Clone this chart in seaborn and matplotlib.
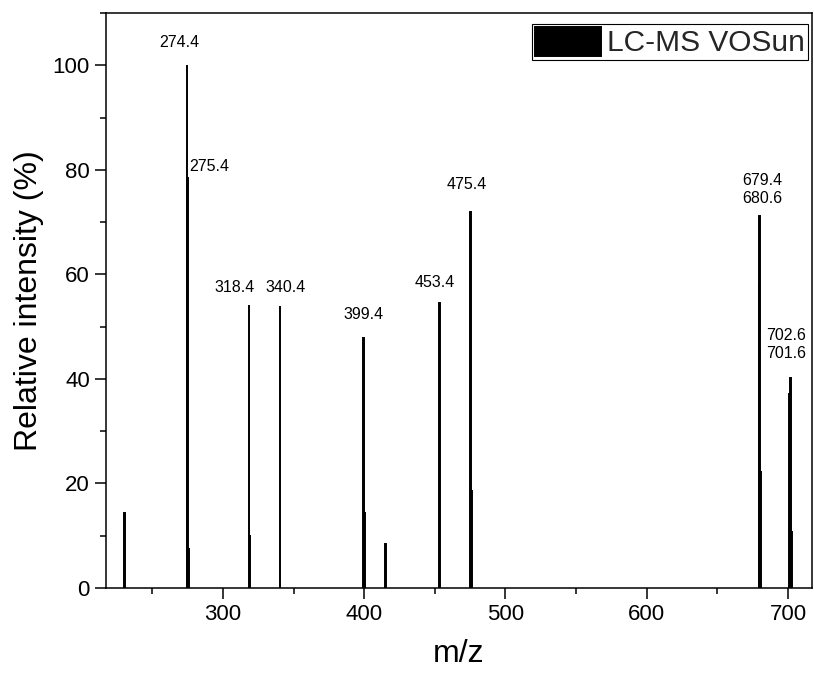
import numpy as np
import pandas as pd
import seaborn as sns
import matplotlib.pyplot as plt
from matplotlib.ticker import MultipleLocator

# Peak list (m/z, relative intensity %)
mz = [230.4, 274.4, 275.0, 276.0, 318.4, 319.2, 340.4, 399.6, 400.6, 415.0,
      453.4, 475.4, 476.2, 679.4, 680.0, 680.6, 700.9, 701.6, 702.4]
intensity = [14.4, 100.0, 78.4, 7.7, 54.1, 10.2, 53.9, 47.8, 14.5, 8.5,
             54.6, 72.0, 18.7, 58.2, 71.2, 22.2, 37.2, 40.2, 10.8]

# Peak labels: text, and which peak (m/z) it sits over
label_text = ['274.4', '275.4', '318.4', '340.4', '399.4', '453.4', '475.4',
              '680.6', '679.4', '701.6', '702.6']
label_peak = [274.4, 275.0, 318.4, 340.4, 399.6, 453.4, 475.4,
              680.0, 680.0, 701.6, 701.6]
# pixel offsets of each label from its peak top (dx, dy, ha)
label_offset = [(-8, 23, 'center'), (2, 12, 'left'), (-14, 18, 'center'),
                (5, 19, 'center'), (0, 24, 'center'), (-5, 20, 'center'),
                (-4, 27, 'center'), (3, 17, 'center'), (3, 35, 'center'),
                (-4, 24, 'center'), (-4, 42, 'center')]

df = pd.DataFrame({'m/z': mz, 'intensity': intensity})

sns.set_style('ticks')
plt.rcParams['font.family'] = ['Liberation Sans', 'DejaVu Sans']

fig = plt.figure(figsize=(8.14, 6.73), dpi=100)
ax = fig.add_axes([0.130, 0.1263, 0.8675, 0.8544])

sns.barplot(data=df, x='m/z', y='intensity', native_scale=True, errorbar=None,
            color='black', edgecolor='black', linewidth=1.4, width=0.8,
            label='LC-MS VOSun', ax=ax)

height_of = dict(zip(mz, intensity))
for txt, pk, (dx, dy, ha) in zip(label_text, label_peak, label_offset):
    ax.annotate(txt, (pk, height_of[pk]), xytext=(dx, dy), textcoords='offset pixels',
                ha=ha, va='center', fontsize=11.5, color='black')

ax.set_xlim(217, 717)
ax.set_ylim(0, 110)
ax.xaxis.set_major_locator(MultipleLocator(100))
ax.xaxis.set_minor_locator(MultipleLocator(50))
ax.yaxis.set_major_locator(MultipleLocator(20))
ax.yaxis.set_minor_locator(MultipleLocator(10))
ax.tick_params(which='major', direction='out', length=8, width=1.1, labelsize=16,
               color='black', labelcolor='black')
ax.tick_params(which='minor', direction='out', length=4.5, width=1.1, color='black')
for s in ax.spines.values():
    s.set_visible(True)
    s.set_linewidth(1.1)
    s.set_color('black')

ax.set_xlabel('m/z', fontsize=23, labelpad=10, color='black')
ax.set_ylabel('Relative intensity (%)', fontsize=23, labelpad=6, color='black')

leg = ax.legend(loc='upper right', bbox_to_anchor=(0.9943, 0.981), borderaxespad=0,
                fontsize=21.5, handlelength=2.2, handleheight=1.1, handletextpad=0.2,
                borderpad=0.1, fancybox=False, framealpha=1, edgecolor='black')
leg.get_frame().set_linewidth(0.8)

fig.savefig('out.png', dpi=100)
